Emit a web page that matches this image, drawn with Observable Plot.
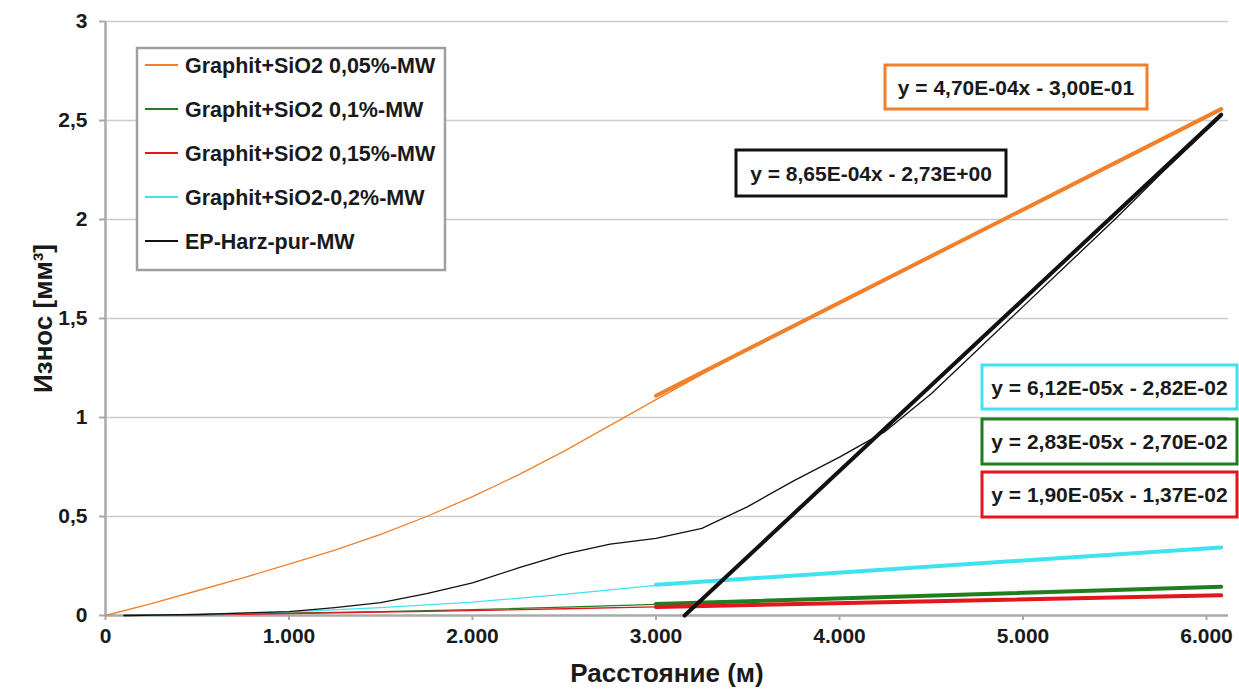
<!DOCTYPE html>
<html><head><meta charset="utf-8">
<script src="https://cdn.jsdelivr.net/npm/d3@7"></script>
<script src="https://cdn.jsdelivr.net/npm/@observablehq/plot@0.6"></script>
<style>
body{margin:0;background:#fff;}
#chart{width:1239px;height:700px;}
#chart g[aria-label="x-axis label"] text, #chart g[aria-label="y-axis label"] text{font-size:26px;}
</style></head><body><div id="chart"></div>
<script>
// ---- data ----
const seriesNames = ["Graphit+SiO2 0,05%-MW","Graphit+SiO2 0,1%-MW","Graphit+SiO2 0,15%-MW","Graphit+SiO2-0,2%-MW","EP-Harz-pur-MW"];
const seriesColors = ["#f2802a","#1f7f1f","#e3161d","#3fe3ef","#111111"];

const orangeX = [0,250,500,750,1000,1250,1500,1750,2000,2250,2500,2750,3000,3500,4000,4500,5000,5500,6080];
const orangeY = [0,0.06,0.125,0.19,0.26,0.33,0.41,0.5,0.6,0.71,0.83,0.96,1.09,1.345,1.58,1.815,2.05,2.285,2.56];

const lowX   = [100,500,1000,1500,2000,2500,3000,3500,4000,4500,5000,5500,6080];
const greenY = [0,0.004,0.012,0.02,0.03,0.042,0.056,0.071,0.085,0.1,0.114,0.128,0.145];
const redY   = [0,0.003,0.01,0.017,0.025,0.034,0.044,0.053,0.062,0.072,0.081,0.09,0.101];
const cyanY  = [0,0.005,0.018,0.04,0.068,0.107,0.152,0.186,0.217,0.247,0.278,0.308,0.344];

const blackX = [100,500,1000,1250,1500,1750,2000,2250,2500,2750,3000,3250,3500,3750,4000,4250,4500,4750,5000,5250,5500,5750,6080];
const blackY = [0,0.005,0.02,0.04,0.065,0.11,0.165,0.24,0.31,0.36,0.39,0.44,0.55,0.68,0.8,0.93,1.12,1.34,1.56,1.78,2.0,2.23,2.52];

// trend lines (from the chart's equations)
const trendSlope = [4.70e-4, 2.83e-5, 1.90e-5, 6.12e-5, 8.65e-4];
const trendIntercept = [-0.300, -0.0270, -0.0137, -0.0282, -2.73];
const trendStart = [3000, 3000, 3000, 3000, 3156];
const trendEnd = [6080, 6080, 6080, 6080, 6080];
const trendLabels = ["y = 4,70E-04x - 3,00E-01","y = 2,83E-05x - 2,70E-02","y = 1,90E-05x - 1,37E-02","y = 6,12E-05x - 2,82E-02","y = 8,65E-04x - 2,73E+00"];

const xTicks = [0,1000,2000,3000,4000,5000,6000];
const yTicks = [0,0.5,1,1.5,2,2.5,3];

// ---- tables ----
const rawSets = [[orangeX,orangeY],[lowX,greenY],[lowX,redY],[lowX,cyanY],[blackX,blackY]];
const raw = rawSets.flatMap(([xs,ys],i)=>xs.map((x,j)=>({s:i,x,y:ys[j]})));
const trendOrder = [3,1,2,0,4];
const trends = trendOrder.flatMap(i=>[trendStart[i],trendEnd[i]].map(x=>({s:i,x,y:trendSlope[i]*x+trendIntercept[i]})));

const loc = d3.formatLocale({decimal:",", thousands:".", grouping:[3], currency:["",""]});
const fx = loc.format(",");
const fy = loc.format("~g");
const FONT = "'Liberation Sans', Arial, sans-serif";

const chart = Plot.plot({
  width:1239, height:700,
  marginTop:21, marginBottom:85, marginLeft:105, marginRight:11,
  style:{fontFamily:FONT, fontWeight:"bold", fontSize:"21px", color:"#1a1a1a", background:"#fff"},
  x:{domain:[0,6120]},
  y:{domain:[0,3]},
  marks:[
    Plot.gridY(yTicks.slice(1), {stroke:"#cccccc", strokeOpacity:1, strokeWidth:1.5}),
    Plot.axisX({ticks:xTicks, tickFormat:fx, tickSize:5, tickPadding:8, stroke:"#aaaaaa", strokeWidth:2,
      label:"Расстояние (м)", labelAnchor:"center", labelArrow:"none", labelOffset:66, fontSize:21, fontWeight:"bold"}),
    Plot.axisY({ticks:yTicks, tickFormat:fy, tickSize:6, tickPadding:12, stroke:"#aaaaaa", strokeWidth:2,
      label:"Износ [мм³]", labelAnchor:"center", labelArrow:"none", labelOffset:72, fontSize:21, fontWeight:"bold"}),
    Plot.ruleX([0], {stroke:"#aaaaaa", strokeWidth:2.5}),
    Plot.ruleY([0], {stroke:"#aaaaaa", strokeWidth:2.5}),
    Plot.line(raw, {x:"x", y:"y", z:"s", stroke:d=>seriesColors[d.s], strokeWidth:1.3}),
    Plot.line(trends, {x:"x", y:"y", z:"s", stroke:d=>seriesColors[d.s], strokeWidth:4})
  ]
});
document.getElementById("chart").appendChild(chart);

// ---- legend & equation boxes ----
const svg = d3.select(chart);
const lg = svg.append("g").attr("font-family",FONT).attr("font-weight","bold").attr("font-size",21.5)
  .attr("fill","#1a1a1a").attr("text-anchor","start");
lg.append("rect").attr("x",137).attr("y",48).attr("width",308).attr("height",222)
  .attr("fill","#fff").attr("stroke","#a0a0a0").attr("stroke-width",2.5);
seriesNames.forEach((n,i)=>{
  const yy = 65 + i*44;
  lg.append("line").attr("x1",145).attr("x2",178).attr("y1",yy).attr("y2",yy)
    .attr("stroke",seriesColors[i]).attr("stroke-width",1.8);
  lg.append("text").attr("x",185).attr("y",yy).attr("dy","0.36em").attr("text-anchor","start").text(n);
});

const boxes = [
  {i:0, x:885, y:65, w:262, h:44},
  {i:4, x:736, y:150, w:270, h:46},
  {i:3, x:982, y:365, w:255, h:44},
  {i:1, x:982, y:419, w:255, h:45},
  {i:2, x:982, y:472, w:255, h:45}
];
const bg = svg.append("g").attr("font-family",FONT).attr("font-weight","bold").attr("font-size",21).attr("fill","#1a1a1a");
boxes.forEach(b=>{
  bg.append("rect").attr("x",b.x).attr("y",b.y).attr("width",b.w).attr("height",b.h)
    .attr("fill","#fff").attr("stroke",seriesColors[b.i]).attr("stroke-width",3);
  bg.append("text").attr("x",b.x+b.w/2).attr("y",b.y+b.h/2).attr("dy","0.36em")
    .attr("text-anchor","middle").text(trendLabels[b.i]);
});
</script></body></html>
